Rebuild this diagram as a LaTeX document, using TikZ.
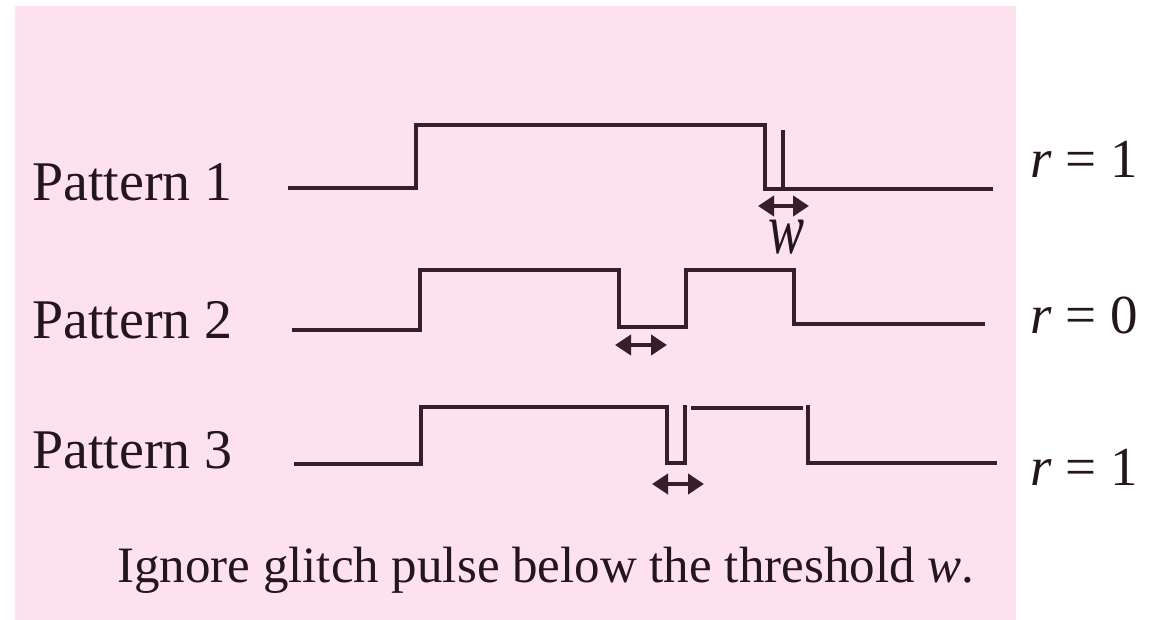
\documentclass[tikz,border=0pt]{standalone}
\usepackage{fontspec}
\setmainfont{Liberation Serif}
\usetikzlibrary{arrows.meta}
\definecolor{bgpink}{RGB}{253,225,238}
\definecolor{ink}{RGB}{55,30,45}
\definecolor{txt}{RGB}{35,22,30}
\tikzset{
  wave/.style={draw=ink, line width=4.5pt, line join=miter, line cap=butt},
  thinwave/.style={draw=ink, line width=3.5pt},
  warrow/.style={draw=ink, line width=4pt, {Triangle[length=16pt,width=20pt]}-{Triangle[length=16pt,width=20pt]}},
  lbl/.style={text=txt, inner sep=0pt, anchor=base west, font=\fontsize{56}{60}\selectfont},
  rlbl/.style={text=txt, inner sep=0pt, anchor=base west, font=\fontsize{55}{60}\selectfont},
}
\begin{document}
\begin{tikzpicture}[x=1pt,y=-1pt]
\useasboundingbox (0,0) rectangle (1155,620);
\fill[bgpink] (15,6) rectangle (1016,620);

% labels
\node[lbl] (p1) at (32,201) {Pattern 1};
\node[lbl] (p2) at (32,338) {Pattern 2};
\node[lbl] (p3) at (32,468) {Pattern 3};
\node[rlbl] (r1) at (1030,178) {\textit{r} = 1};
\node[rlbl] (r2) at (1030,333) {\textit{r} = 0};
\node[rlbl] (r3) at (1030,485) {\textit{r} = 1};

% Pattern 1
\draw[wave] (288,188) -- (416,188) -- (416,125) -- (765,125) -- (765,189) -- (993,189);
\draw[thinwave] (783,130) -- (783,189);
\coordinate (a1l) at (758,206);
\coordinate (a1r) at (809,206);
\draw[warrow] (a1l) -- (a1r);
\node[text=txt, inner sep=0pt, font=\fontsize{54}{60}\selectfont\itshape, yscale=1.35] (w) at (786,237) {w};

% Pattern 2
\draw[wave] (292,330) -- (420,330) -- (420,270) -- (619,270) -- (619,327) -- (686,327) -- (686,270) -- (794,270) -- (794,324) -- (985,324);
\coordinate (a2l) at (615,345);
\coordinate (a2r) at (667,345);
\draw[warrow] (a2l) -- (a2r);

% Pattern 3
\draw[wave] (294,464) -- (421,464) -- (421,407) -- (667,407) -- (667,463) -- (685,463) -- (685,405);
\draw[wave] (691,408) -- (803,408);
\draw[wave] (808,405) -- (808,463) -- (997,463);
\coordinate (a3l) at (652,484);
\coordinate (a3r) at (704,484);
\draw[warrow] (a3l) -- (a3r);

% caption
\node[text=txt, inner sep=0pt, anchor=base west, font=\fontsize{51}{60}\selectfont] (cap) at (117,582) {Ignore glitch pulse below the threshold \textit{w}.};
\end{tikzpicture}
\end{document}
